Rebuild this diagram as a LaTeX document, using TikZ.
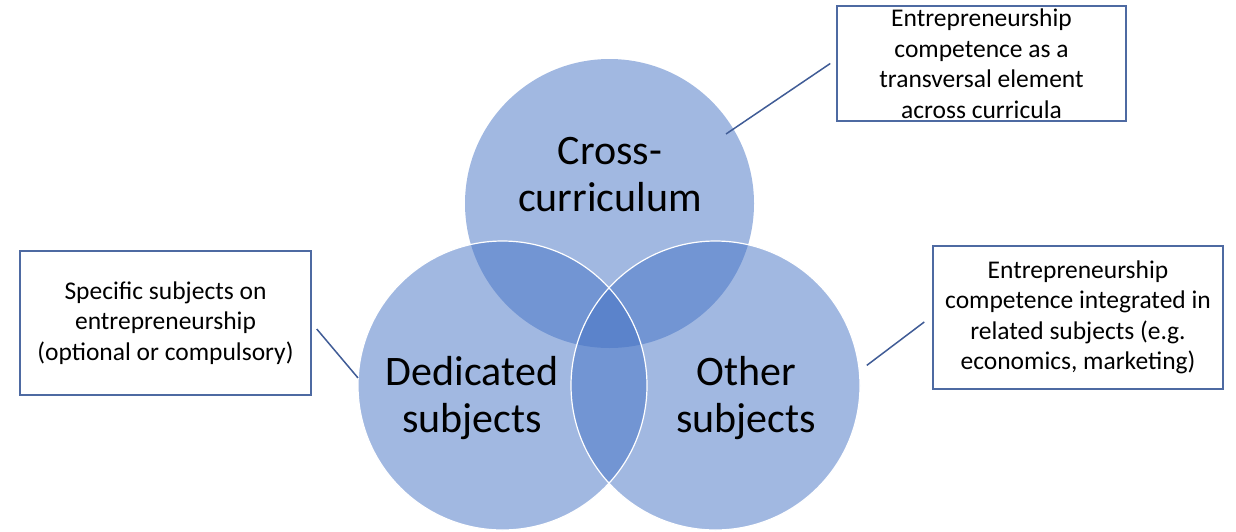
\documentclass[tikz,border=0pt]{standalone}
\usepackage{fontspec}
\setmainfont{Carlito}
\usepackage{xcolor}
\usepackage{tikz}
\usetikzlibrary{positioning}

\definecolor{vennblue}{HTML}{4472C4}
\definecolor{noteframe}{RGB}{78,106,162}
\definecolor{noteline}{RGB}{64,92,150}

\begin{document}
\begin{tikzpicture}[
    x=1pt, y=-1pt,
    set/.style={
      circle,
      minimum size=289pt,
      inner sep=0pt,
      fill=vennblue,
      fill opacity=0.5  % overlaps get darker
    },
    rim/.style={draw=white, line width=1.2pt},
    setlabel/.style={align=center, font=\fontsize{42}{47}\selectfont},
    note/.style={
      draw=noteframe,
      line width=1.5pt,
      align=center,
      inner sep=0pt,
      minimum width=290pt,
      font=\fontsize{25.5}{30.5}\selectfont
    },
    link/.style={draw=noteline, line width=1.5pt}
]
\useasboundingbox (0,0) rectangle (1236,531);

% the three sets
\node[set] (cross) at (609.5,203.5) {};
\node[set] (dedicated) at (502.5,385.5) {};
\node[set] (other) at (715.5,385.5) {};
\foreach \s in {dedicated,other}
  \draw[rim] (\s.center) circle[radius=144.5];

\node[setlabel] (crosslabel) at (610,175) {Cross-\\curriculum};
\node[setlabel] (dedicatedlabel) at (472,398) {Dedicated\\subjects};
\node[setlabel] (otherlabel) at (746,398) {Other\\subjects};

% explanation boxes
\node[note, minimum width=289pt, minimum height=115pt] (topnote) at (981.5,63.5)
  {Entrepreneurship\\competence as a\\transversal element\\across curricula};
\node[note, minimum width=291pt, minimum height=144pt] (leftnote) at (165.5,323)
  {\raisebox{-3pt}{\parbox{291pt}{\centering Specific subjects on\\entrepreneurship\\(optional or compulsory)}}};
\node[note, minimum height=143pt] (rightnote) at (1078,317.5)
  {\raisebox{-2pt}{\parbox{290pt}{\centering Entrepreneurship\\competence integrated in\\related subjects (e.g.\\economics, marketing)}}};

\coordinate (crosspin) at (726,134);
\draw[link] (crosspin) -- ([xshift=-6pt]topnote.west);
\draw[link] ([shift={(5,6)}]leftnote.east) -- (dedicated.177);
\draw[link] ([shift={(8,0)}]other.8) -- ([shift={(-8,4.5)}]rightnote.west);
\end{tikzpicture}
\end{document}
